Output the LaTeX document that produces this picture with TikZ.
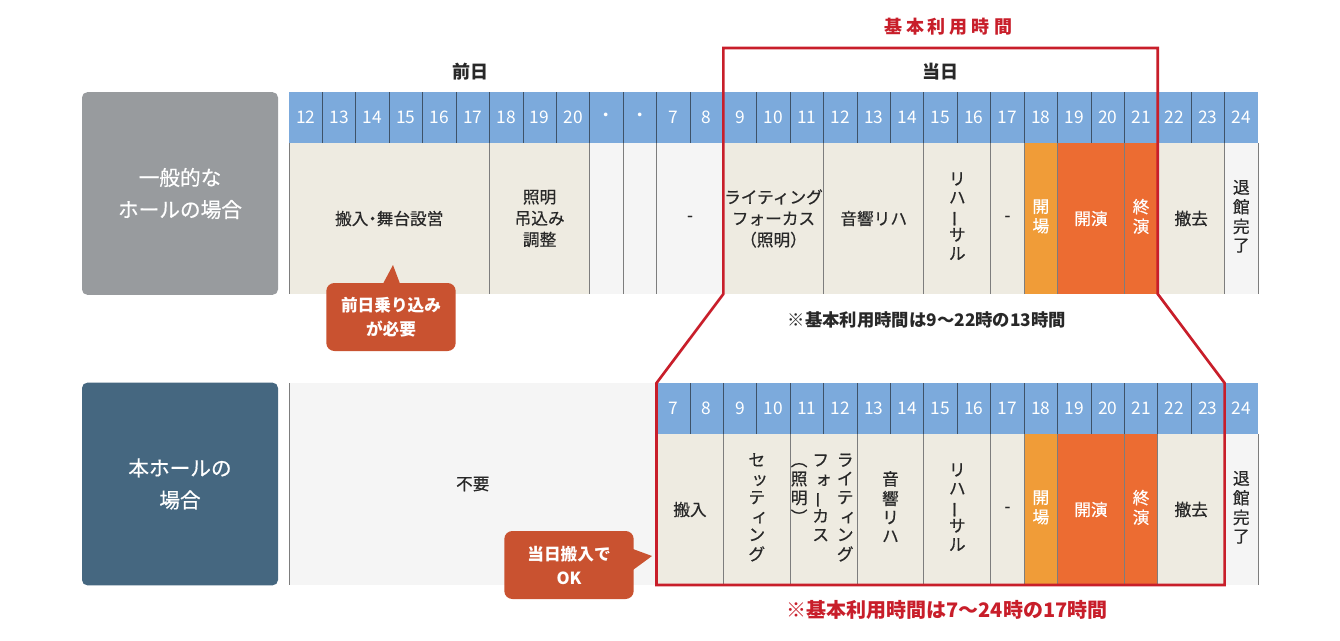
\documentclass[tikz,border=0pt]{standalone}
\usepackage{fontspec}
\setmainfont{Noto Sans CJK JP}
\newfontfamily\medfont{Noto Sans CJK JP}[FakeBold=0.5]
\usetikzlibrary{calc}
\definecolor{HallBlue}{RGB}{124,170,220}
\definecolor{HallRule}{RGB}{62,82,104}
\definecolor{HallBeige}{RGB}{238,235,225}
\definecolor{HallPale}{RGB}{245,245,245}
\definecolor{HallOrange}{RGB}{240,156,56}
\definecolor{HallFlame}{RGB}{236,108,50}
\definecolor{HallRed}{RGB}{200,30,42}
\definecolor{HallBrick}{RGB}{201,82,48}
\definecolor{HallGray}{RGB}{152,155,158}
\definecolor{HallSlate}{RGB}{69,103,128}
\definecolor{HallInk}{RGB}{40,40,40}
\definecolor{HallSep}{RGB}{125,125,125}
\newlength{\cw}\setlength{\cw}{25.06pt}
\newcommand{\vstack}[1]{\begin{tabular}[t]{@{}c@{}}#1\end{tabular}}
\newcommand{\sk}[1]{\hspace*{0.35em}#1}
\newcommand{\vbar}{\rotatebox[origin=c]{90}{ー}}
\tikzset{
  hall/head/.style={
    anchor=north west,
    fill=HallBlue,
    minimum width=\cw,
    minimum height=38.25pt,
    inner sep=0pt,
    outer sep=0pt,
    text=white,
    font=\fontsize{13}{15}\selectfont
  },
  hall/cell/.style={
    anchor=north west,
    minimum height=113.25pt,
    inner sep=0pt,
    outer sep=0pt,
    align=center,
    text=HallInk,
    font=\medfont\fontsize{12.5}{16}\selectfont
  },
  hall/vcell/.style={hall/cell, font=\medfont\fontsize{12.5}{14}\selectfont},
  hall/label/.style={
    rounded corners=4pt,
    minimum width=147pt,
    minimum height=152pt,
    align=center,
    text=white,
    font=\medfont\fontsize{15.5}{24}\selectfont
  },
  hall/callout/.style={
    fill=HallBrick,
    rounded corners=6pt,
    minimum width=97pt,
    minimum height=51pt,
    align=center,
    text=white,
    font=\bfseries\fontsize{12.5}{18}\selectfont
  },
  hall/title/.style={font=\bfseries\fontsize{13.5}{16}\selectfont, text=HallInk},
  hall/note/.style={font=\bfseries\fontsize{13}{16}\selectfont, text=HallInk},
  hall/rednote/.style={font=\bfseries\fontsize{15}{18}\selectfont, text=HallRed},
  hall/sep/.style={draw=HallSep, line width=0.6pt},
  hall/rule/.style={draw=HallRule, line width=0.6pt},
  hall/frame/.style={draw=HallRed, line width=2pt}
}
\begin{document}
\begin{tikzpicture}[x=0.75pt,y=-0.75pt]
  \useasboundingbox (0,0) rectangle (1340,640);
  % row labels
  \node[hall/label,fill=HallGray] (genLabel) at (180,193.5) {一般的な\\ホールの場合};
  \node[hall/label,fill=HallSlate] (ourLabel) at (180,484) {本ホールの\\場合};

  % general hall, body
  \node[hall/cell,fill=HallBeige,minimum width=6\cw] (genLoad) at ({289+0*33.414},143) {搬入\kern-0.25em・\kern-0.25em舞台設営};
  \node[hall/cell,fill=HallBeige,minimum width=3\cw] (genLight) at ({289+6*33.414},143) {照明\\吊込み\\調整};
  \node[hall/cell,fill=HallPale,minimum width=\cw] (genDotA) at ({289+9*33.414},143) {};
  \node[hall/cell,fill=HallPale,minimum width=\cw] (genDotB) at ({289+10*33.414},143) {};
  \node[hall/cell,fill=HallPale,minimum width=2\cw] (genIdle) at ({289+11*33.414},143) {-};
  \node[hall/cell,fill=HallBeige,minimum width=3\cw] (genFocus) at ({289+13*33.414},143) {ライティング\\フォーカス\\（照明）};
  \node[hall/cell,fill=HallBeige,minimum width=3\cw] (genSound) at ({289+16*33.414},143) {音響リハ};
  \node[hall/vcell,fill=HallBeige,minimum width=2\cw] (genRehearsal) at ({289+19*33.414},143) {\vstack{リ\\ハ\\\vbar\\サ\\ル}};
  \node[hall/cell,fill=HallBeige,minimum width=\cw] (genBreak) at ({289+21*33.414},143) {-};
  \node[hall/vcell,fill=HallOrange,minimum width=\cw,text=white] (genOpen) at ({289+22*33.414},143) {\vstack{開\\場}};
  \node[hall/cell,fill=HallFlame,minimum width=2\cw,text=white] (genShow) at ({289+23*33.414},143) {開演};
  \node[hall/vcell,fill=HallFlame,minimum width=\cw,text=white] (genEnd) at ({289+25*33.414},143) {\vstack{終\\演}};
  \node[hall/cell,fill=HallBeige,minimum width=2\cw] (genStrike) at ({289+26*33.414},143) {撤去};
  \node[hall/vcell,fill=HallPale,minimum width=\cw] (genExit) at ({289+28*33.414},143) {\vstack{退\\館\\完\\了}};

  % this hall, body
  \node[hall/cell,fill=HallPale,minimum width=11\cw,minimum height=151.5pt] (ourNone) at ({289+0*33.414},383) {不要};
  \node[hall/cell,fill=HallBeige,minimum width=2\cw] (ourLoad) at ({289+11*33.414},434) {搬入};
  \node[hall/vcell,fill=HallBeige,minimum width=2\cw] (ourSetup) at ({289+13*33.414},434) {\vstack{セ\\\sk{ッ}\\テ\\\sk{ィ}\\ン\\グ}};
  \node[hall/vcell,fill=HallBeige,minimum width=2\cw] (ourFocus) at ({289+15*33.414},434) {\vstack{︵\\照\\明\\︶}\hspace{1.5pt}\vstack{フ\\\sk{ォ}\\\vbar\\カ\\ス}\hspace{1.5pt}\vstack{ラ\\イ\\テ\\\sk{ィ}\\ン\\グ}};
  \node[hall/vcell,fill=HallBeige,minimum width=2\cw] (ourSound) at ({289+17*33.414},434) {\vstack{音\\響\\リ\\ハ}};
  \node[hall/vcell,fill=HallBeige,minimum width=2\cw] (ourRehearsal) at ({289+19*33.414},434) {\vstack{リ\\ハ\\\vbar\\サ\\ル}};
  \node[hall/cell,fill=HallBeige,minimum width=\cw] (ourBreak) at ({289+21*33.414},434) {-};
  \node[hall/vcell,fill=HallOrange,minimum width=\cw,text=white] (ourOpen) at ({289+22*33.414},434) {\vstack{開\\場}};
  \node[hall/cell,fill=HallFlame,minimum width=2\cw,text=white] (ourShow) at ({289+23*33.414},434) {開演};
  \node[hall/vcell,fill=HallFlame,minimum width=\cw,text=white] (ourEnd) at ({289+25*33.414},434) {\vstack{終\\演}};
  \node[hall/cell,fill=HallBeige,minimum width=2\cw] (ourStrike) at ({289+26*33.414},434) {撤去};
  \node[hall/vcell,fill=HallPale,minimum width=\cw] (ourExit) at ({289+28*33.414},434) {\vstack{退\\館\\完\\了}};

  % hour headers
  \foreach \h [count=\i from 0] in {12,13,14,15,16,17,18,19,20,・,・,7,8,9,10,11,12,13,14,15,16,17,18,19,20,21,22,23,24}
    \node[hall/head] (ht\i) at ({289+\i*33.414},92) {\h};
  \foreach \h [count=\i from 0] in {7,8,9,10,11,12,13,14,15,16,17,18,19,20,21,22,23,24}
    \node[hall/head] (hb\i) at ({289+(\i+11)*33.414},383) {\h};
  \foreach \i in {1,...,28}
    \draw[hall/rule] (ht\i.north west) -- (ht\i.south west);
  \foreach \i in {1,...,17}
    \draw[hall/rule] (hb\i.north west) -- (hb\i.south west);

  % cell separators
  \draw[hall/sep] (genLoad.north west) -- (genLoad.south west);
  \foreach \c in {genLoad,genLight,genDotA,genDotB,genIdle,genFocus,genSound,genRehearsal,genBreak,genOpen,genShow,genEnd,genStrike,genExit}
    \draw[hall/sep] (\c.north east) -- (\c.south east);
  \draw[hall/sep] (ourNone.north west) -- (ourNone.south west);
  \foreach \c in {ourLoad,ourSetup,ourFocus,ourSound,ourRehearsal,ourBreak,ourOpen,ourShow,ourEnd,ourStrike,ourExit}
    \draw[hall/sep] (\c.north east) -- (\c.south east);

  % day titles and basic hours frame
  \node[hall/title] (prevDay) at (470,72) {前日};
  \node[hall/title] (sameDay) at (940,72) {当日};
  \node[hall/title,text=HallRed] (basicTitle) at (948,27) {基\hspace{3pt}本\hspace{3pt}利\hspace{3pt}用\hspace{3pt}時\hspace{3pt}間};
  \coordinate (frameTL) at ({289+13*33.414},48);
  \coordinate (frameTR) at ({289+26*33.414},48);
  \draw[hall/frame] (frameTL) -- (frameTR) -- (genStrike.south west) -- (hb17.north west)
    -- (ourExit.south west) -- (ourLoad.south west) -- (hb0.north west) -- (genFocus.south west) -- cycle;
  \node[hall/note] (genNote) at (927,320) {※基本利用時間は9〜22時の13時間};
  \node[hall/rednote] (ourNote) at (947,610) {※基本利用時間は7〜24時の17時間};

  % callouts
  \node[hall/callout] (needNote) at (391,317) {前日乗り込み\\が必要};
  \coordinate (needTip) at (393,265);
  \fill[HallBrick] ($(needNote.north)+(-8,1)$) -- (needTip) -- ($(needNote.north)+(9,1)$) -- cycle;
  \node[hall/callout] (okNote) at (569,565) {当日搬入で\\OK};
  \coordinate (okTip) at (652,556);
  \fill[HallBrick] ($(okNote.east)+(-1,-16)$) -- (okTip) -- ($(okNote.east)+(-1,5)$) -- cycle;
\end{tikzpicture}
\end{document}
